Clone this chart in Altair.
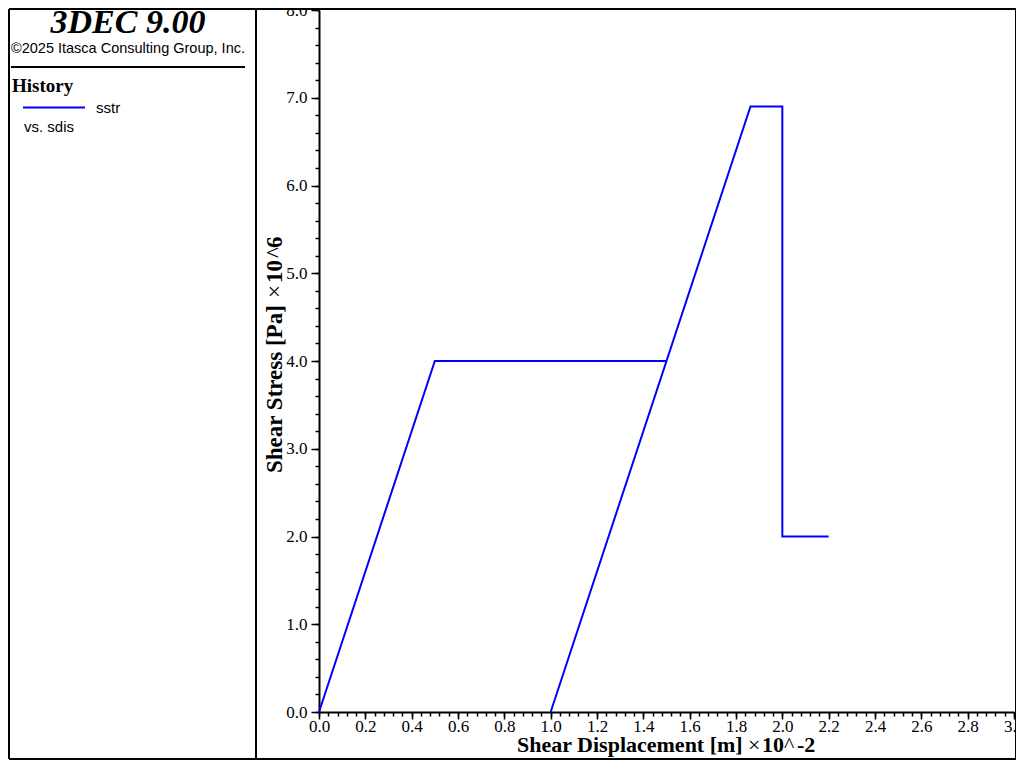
import altair as alt
import pandas as pd

# ---- data ----
sdis = [0.0, 0.5, 1.5, 1.0, 1.8625, 2.0, 2.0, 2.2]   # x 10^-2 m
sstr = [0.0, 4.0, 4.0, 0.0, 6.9, 6.9, 2.0, 2.0]      # x 10^6 Pa
step = [0, 1, 2, 3, 4, 5, 6, 7]

x_major = [round(i * 0.2, 1) for i in range(16)]
x_minor = [round(i * 0.04, 2) for i in range(76)]
y_major = [float(i) for i in range(9)]
y_minor = [round(i * 0.2, 1) for i in range(41)]

title_text = "3DEC 9.00"
copyright_text = "©2025 Itasca Consulting Group, Inc."
legend_head = "History"
legend_series = "sstr"
legend_vs = "vs. sdis"
x_title_parts = ["Shear Displacement [m]", "×", "10", "^", "-2"]
y_title_parts = ["Shear Stress [Pa]", "×", "10", "^", "6"]

df = pd.DataFrame({"sdis": sdis, "sstr": sstr, "step": step})
one = pd.DataFrame({"k": [0]})

W, H = 695, 702
SERIF = "Liberation Serif"
SANS = "Liberation Sans"
BLUE = "#0000ff"

xs = alt.Scale(domain=[0, 3], nice=False, zero=False)
ys = alt.Scale(domain=[0, 8], nice=False, zero=False)

common = dict(grid=False, title=None, tickColor="black", domainColor="black",
              labelFont=SERIF, labelFontSize=17, labelColor="black")

ax_x_major = alt.Axis(orient="bottom", values=x_major, format=".1f", labelFlush=False,
                      tickSize=7, tickWidth=1.5, domainWidth=2, labelPadding=-1, **common)
ax_y_major = alt.Axis(orient="left", values=y_major, format=".1f",
                      tickSize=8, tickWidth=1.5, domainWidth=2, labelPadding=4, **common)
ax_x_minor = alt.Axis(orient="bottom", values=x_minor, labels=False, domain=False,
                      tickSize=4, tickWidth=1.5, grid=False, title=None, tickColor="black")
ax_y_minor = alt.Axis(orient="left", values=y_minor, labels=False, domain=False,
                      tickSize=4, tickWidth=1.5, grid=False, title=None, tickColor="black")

minor = alt.Chart(df).mark_line(opacity=0).encode(
    x=alt.X("sdis:Q", scale=xs, axis=ax_x_minor),
    y=alt.Y("sstr:Q", scale=ys, axis=ax_y_minor),
    order="step:O",
)

line = alt.Chart(df).mark_line(color=BLUE, strokeWidth=2).encode(
    x=alt.X("sdis:Q", scale=xs, axis=ax_x_major),
    y=alt.Y("sstr:Q", scale=ys, axis=ax_y_major),
    order="step:O",
)


def rule(x1, y1, x2, y2, w=2, color="black"):
    return alt.Chart(one).mark_rule(color=color, strokeWidth=w).encode(
        x=alt.value(x1), y=alt.value(y1), x2=alt.value(x2), y2=alt.value(y2))


def label(text, x, y, font, size, weight="normal", style="normal", align="left", angle=0):
    return alt.Chart(pd.DataFrame({"t": [text]})).mark_text(
        font=font, fontSize=size, fontWeight=weight, fontStyle=style,
        align=align, baseline="alphabetic", angle=angle, color="black"
    ).encode(text="t:N", x=alt.value(x), y=alt.value(y))


deco = [
    # frame
    rule(-310, -1, -310, 749),
    rule(-310, -1, 697, -1),
    rule(697, -1, 697, 749),
    rule(-310, 749, 697, 749),
    rule(-63, -1, -63, 749),
    rule(-308, 57, -74, 57),
    rule(-296, 97.5, -234, 97.5, color=BLUE),
    # left panel text
    label(title_text, -191, 23, SERIF, 34, weight="bold", style="italic", align="center"),
    label(copyright_text, -191, 43, SANS, 14.5, align="center"),
    label(legend_head, -307, 82, SERIF, 19, weight="bold"),
    label(legend_series, -223, 102.5, SANS, 15),
    label(legend_vs, -295, 121.5, SANS, 15),
]

weights = ["bold", "normal", "bold", "normal", "bold"]

# x axis title segments
x_pos = [198, 429, 443, 465, 478]
for t, xp, wt in zip(x_title_parts, x_pos, weights):
    deco.append(label(t, xp, 742, SERIF, 22, weight=wt))

# y axis title segments (rotated)
y_pos = [463, 288, 273, 248, 238]
for t, yp, wt in zip(y_title_parts, y_pos, weights):
    deco.append(label(t, -37, yp, SERIF, 23, weight=wt, angle=270))

chart = alt.layer(minor, line, *deco).resolve_axis(
    x="independent", y="independent"
).properties(
    width=W, height=H,
    autosize=alt.AutoSizeParams(type="none"),
    padding={"left": 311, "top": 2, "right": 2, "bottom": 48},
    background="white",
).configure_view(stroke=None)

chart.save("out.html", embed_options={"renderer": "svg", "actions": False})
